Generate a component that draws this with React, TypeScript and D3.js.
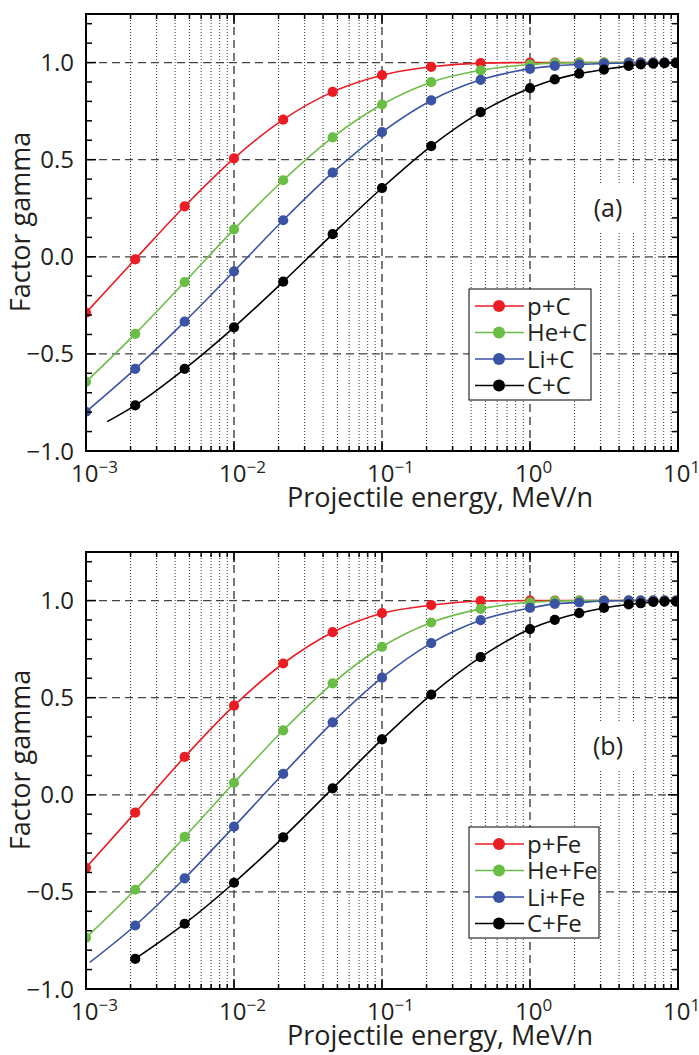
import React from 'react';
import * as d3 from 'd3';

// Projectile energies (MeV/n) at which markers are drawn
const energies = [0.001, 0.00215, 0.00464, 0.01, 0.0215, 0.0464, 0.1, 0.215, 0.464, 1, 1.47, 2.15, 3.16, 4.64, 5.6, 6.8, 8.1, 9.7];

// Panel (a): carbon target
const namesA = ['p+C', 'He+C', 'Li+C', 'C+C'];
const pC = [-0.288, -0.013, 0.26, 0.507, 0.706, 0.849, 0.935, 0.978, 0.997, 1.0, 1.0, 1.0, 1.0, 1.0, 1.0, 1.0, 1.0, 1.0];
const HeC = [-0.644, -0.397, -0.13, 0.141, 0.394, 0.615, 0.784, 0.899, 0.96, 0.99, 0.997, 1.0, 1.0, 1.0, 1.0, 1.0, 1.0, 1.0];
const LiC = [-0.798, -0.577, -0.334, -0.075, 0.188, 0.433, 0.642, 0.805, 0.911, 0.968, 0.983, 0.99, 0.995, 0.998, 1.0, 1.0, 1.0, 1.0];
const CC = [null, -0.765, -0.577, -0.363, -0.128, 0.117, 0.354, 0.57, 0.745, 0.868, 0.913, 0.943, 0.964, 0.983, 0.99, 0.995, 0.997, 0.997];
const startCC: [number, number] = [0.00139, -0.849];

// Panel (b): iron target
const namesB = ['p+Fe', 'He+Fe', 'Li+Fe', 'C+Fe'];
const pFe = [-0.376, -0.092, 0.195, 0.459, 0.676, 0.837, 0.935, 0.976, 0.998, 1.0, 1.0, 1.0, 1.0, 1.0, 1.0, 1.0, 1.0, 1.0];
const HeFe = [-0.736, -0.489, -0.217, 0.062, 0.332, 0.574, 0.762, 0.887, 0.957, 0.991, 0.997, 1.0, 1.0, 1.0, 1.0, 1.0, 1.0, 1.0];
const LiFe = [null, -0.673, -0.43, -0.164, 0.108, 0.373, 0.603, 0.781, 0.899, 0.962, 0.983, 0.99, 0.998, 1.0, 1.0, 1.0, 1.0, 1.0];
const CFe = [null, -0.845, -0.664, -0.453, -0.219, 0.033, 0.285, 0.516, 0.709, 0.853, 0.901, 0.935, 0.962, 0.98, 0.986, 0.993, 0.995, 0.995];
const startLiFe: [number, number] = [0.00106, -0.863];

const colors = ['#ec1c24', '#6abd45', '#3a53a4', '#000000'];
const yMajor = [-1, -0.5, 0, 0.5, 1];
const yTickLabels = ['\u22121.0', '\u22120.5', '0.0', '0.5', '1.0'];
const xMajor = [1e-3, 1e-2, 1e-1, 1, 10];
const xExps = ['\u22123', '\u22122', '\u22121', '0', '1'];

const FONT = '"Open Sans", "DejaVu Sans", sans-serif';
const TXT = '#231f20';
const L = 86, R = 678;

type PanelProps = {
  id: string;
  top: number;
  bottom: number;
  names: string[];
  values: (number | null)[][];
  starts: ([number, number] | null)[];
  tag: string;
  legendW: number;
};

function Panel({ id, top, bottom, names, values, starts, tag, legendW }: PanelProps) {
  const x = d3.scaleLog().domain([1e-3, 10]).range([L, R]);
  const y = d3.scaleLinear().domain([-1, 1.25]).range([bottom, top]);
  const minorX = x.ticks().filter((t) => !xMajor.some((m) => Math.abs(m - t) / m < 1e-6));
  const minorY = d3.range(-10, 13).map((i) => i / 10).filter((v) => !yMajor.some((m) => Math.abs(m - v) < 1e-6));
  const line = d3
    .line<[number, number]>()
    .x((d) => x(d[0]))
    .y((d) => y(d[1]))
    .curve(d3.curveMonotoneX);

  const legX = 469, legY = top + 275, legH = 111;

  return (
    <g>
      <defs>
        <clipPath id={`clip-${id}`}>
          <rect x={L} y={top} width={R - L} height={bottom - top} />
        </clipPath>
      </defs>
      {/* minor vertical grid */}
      {minorX.map((t, i) => (
        <line key={`mx${i}`} x1={x(t)} x2={x(t)} y1={top} y2={bottom} stroke="#333" strokeWidth={1} strokeDasharray="1,2" />
      ))}
      {/* major vertical grid */}
      {xMajor.slice(1, 4).map((t, i) => (
        <line key={`Mx${i}`} x1={x(t)} x2={x(t)} y1={top} y2={bottom} stroke="#333" strokeWidth={1.3} strokeDasharray="8,5" />
      ))}
      {/* horizontal grid */}
      {yMajor.slice(1).map((v, i) => (
        <line key={`My${i}`} x1={L} x2={R} y1={y(v)} y2={y(v)} stroke="#444" strokeWidth={1.3} strokeDasharray="8,5" />
      ))}
      {/* tag box */}
      <rect x={580} y={top + 171} width={60} height={47} fill="#fff" />
      <text x={608} y={top + 203} textAnchor="middle" fontFamily={FONT} fontSize={25} fill={TXT}>{tag}</text>
      {/* series */}
      <g clipPath={`url(#clip-${id})`}>
        {values.map((vals, si) => {
          const pts: [number, number][] = [];
          if (starts[si]) pts.push(starts[si] as [number, number]);
          vals.forEach((v, i) => {
            if (v !== null) pts.push([energies[i], v]);
          });
          return <path key={`l${si}`} d={line(pts) || ''} fill="none" stroke={colors[si]} strokeWidth={1.6} />;
        })}
        {values.map((vals, si) => (
          <g key={`m${si}`}>
            {vals.map((v, i) =>
              v === null ? null : <circle key={i} cx={x(energies[i])} cy={y(v)} r={5.1} fill={colors[si]} />
            )}
          </g>
        ))}
      </g>
      {/* ticks */}
      {yMajor.map((v, i) => (
        <g key={`yt${i}`}>
          <line x1={L} x2={L + 10} y1={y(v)} y2={y(v)} stroke="#000" strokeWidth={1.5} />
          <line x1={R} x2={R - 10} y1={y(v)} y2={y(v)} stroke="#000" strokeWidth={1.5} />
          <text x={74} y={y(v) + 8.5} textAnchor="end" fontFamily={FONT} fontSize={24} fill={TXT}>{yTickLabels[i]}</text>
        </g>
      ))}
      {minorY.map((v, i) => (
        <g key={`ym${i}`}>
          <line x1={L} x2={L + 6} y1={y(v)} y2={y(v)} stroke="#000" strokeWidth={1.5} />
          <line x1={R} x2={R - 6} y1={y(v)} y2={y(v)} stroke="#000" strokeWidth={1.5} />
        </g>
      ))}
      {xMajor.map((t, i) => (
        <g key={`xt${i}`}>
          <line x1={x(t)} x2={x(t)} y1={bottom} y2={bottom - 10} stroke="#000" strokeWidth={1.5} />
          <line x1={x(t)} x2={x(t)} y1={top} y2={top + 10} stroke="#000" strokeWidth={1.5} />
          <text x={x(t) - 15} y={bottom + 31} fontFamily={FONT} fontSize={24} fill={TXT}>
            10
            <tspan dy={-9} fontSize={17}>{xExps[i]}</tspan>
          </text>
        </g>
      ))}
      {minorX.map((t, i) => (
        <g key={`xm${i}`}>
          <line x1={x(t)} x2={x(t)} y1={bottom} y2={bottom - 5} stroke="#000" strokeWidth={1.5} />
          <line x1={x(t)} x2={x(t)} y1={top} y2={top + 5} stroke="#000" strokeWidth={1.5} />
        </g>
      ))}
      {/* frame */}
      <rect x={L} y={top} width={R - L} height={bottom - top} fill="none" stroke="#000" strokeWidth={2} />
      {/* legend */}
      <rect x={legX} y={legY} width={legendW} height={legH} fill="#fff" stroke="#000" strokeWidth={1} />
      {names.map((n, i) => {
        const ry = legY + 17 + i * 26.5;
        return (
          <g key={`lg${i}`}>
            <line x1={475} x2={524} y1={ry} y2={ry} stroke={colors[i]} strokeWidth={1.5} />
            <circle cx={499} cy={ry} r={6} fill={colors[i]} />
            <text x={527} y={ry + 8.5} fontFamily={FONT} fontSize={24} fill={TXT}>{n}</text>
          </g>
        );
      })}
      {/* axis labels */}
      <text x={440} y={bottom + 56} textAnchor="middle" fontFamily={FONT} fontSize={27} fill={TXT}>
        Projectile energy, MeV/n
      </text>
      <text
        transform={`translate(30,${top + 208}) rotate(-90)`}
        textAnchor="middle"
        fontFamily={FONT}
        fontSize={27}
        fill={TXT}
      >
        Factor gamma
      </text>
    </g>
  );
}

export default function App() {
  return (
    <svg
      width={699}
      height={1055}
      viewBox="0 0 699 1055"
      style={{ position: 'absolute', left: 0, top: 0, background: '#fff' }}
    >
      <rect x={0} y={0} width={699} height={1055} fill="#fff" />
      <Panel
        id="a"
        top={14}
        bottom={451}
        names={namesA}
        values={[pC, HeC, LiC, CC]}
        starts={[null, null, null, startCC]}
        tag="(a)"
        legendW={122}
      />
      <Panel
        id="b"
        top={552}
        bottom={989}
        names={namesB}
        values={[pFe, HeFe, LiFe, CFe]}
        starts={[null, null, startLiFe, null]}
        tag="(b)"
        legendW={130}
      />
    </svg>
  );
}
